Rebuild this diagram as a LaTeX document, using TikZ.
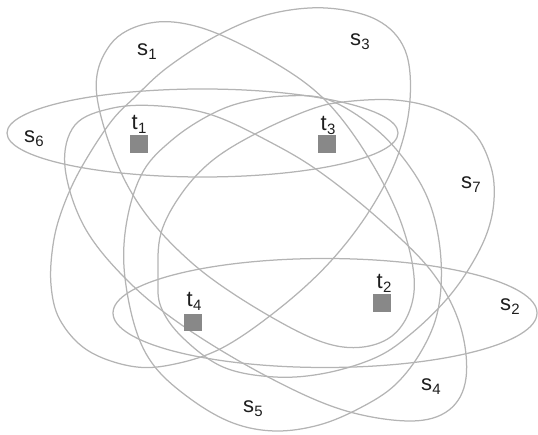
\documentclass[tikz,border=0pt]{standalone}
\usepackage{fontspec}
\setmainfont{Liberation Sans}
\definecolor{curvegray}{RGB}{180,180,180}
\definecolor{sqgray}{RGB}{136,136,136}
\definecolor{txt}{RGB}{30,30,30}
\newcommand{\lbl}[2]{#1\kern0.3pt\raisebox{-4pt}{\fontsize{15}{15}\selectfont #2}}
\tikzset{
  setline/.style={draw=curvegray, line width=1.25pt},
  sqbox/.style={fill=sqgray, draw=none, minimum size=17.5pt, inner sep=0pt},
  lab/.style={text=txt, inner sep=0pt, font=\fontsize{22}{24}\selectfont}
}
\begin{document}
\begin{tikzpicture}[x=1pt,y=-1pt]
\useasboundingbox (0,0) rectangle (538,435);
% s6
\draw[setline] (202.5,133) ellipse (195.5 and 44);
% s2
\draw[setline] (325,313) ellipse (212 and 54.5);
% s1
\draw[setline] plot[smooth cycle, tension=0.6] coordinates {(97,97) (110,45) (150,23) (202,28) (270,60) (325,100) (370,160) (403,228) (414,292) (392,336) (343,347) (280,322) (192,263) (130,190)};
% s3
\draw[setline] plot[smooth cycle, tension=0.6] coordinates {(326,8) (377,20) (405,50) (410,100) (398,155) (370,210) (330,262) (280,308) (222,348) (170,365) (130,366) (87,350) (60,320) (51,285) (53,245) (62,210) (80,170) (110,123) (135,97) (168,67) (218,35) (270,14)};
% s4
\draw[setline] plot[smooth cycle, tension=0.6] coordinates {(65,167) (75,125) (113,108) (160,106) (212,115) (270,142) (320,172) (380,220) (432,272) (460,325) (466,378) (449,410) (410,421) (343,410) (270,378) (189,330) (130,283) (85,228)};
% s5
\draw[setline] plot[smooth cycle, tension=0.6] coordinates {(124,267) (128,215) (144,170) (172,140) (206,117) (240,103) (285,96) (329,100) (377,130) (412,170) (432,210) (441,260) (438,310) (422,350) (395,385) (360,408) (319,425) (275,431) (233,423) (192,400) (155,367) (135,327)};
% s7
\draw[setline] plot[smooth cycle, tension=0.6] coordinates {(158,277) (161,233) (182,193) (213,160) (257,133) (309,110) (343,102) (395,100) (439,110) (474,133) (491,167) (494,200) (487,233) (470,267) (446,300) (412,333) (377,357) (326,373) (275,377) (223,367) (182,337) (161,307)};
% elements
\node[sqbox] (t1) at (139,144) {};
\node[sqbox] (t3) at (327,144) {};
\node[sqbox] (t2) at (382,303) {};
\node[sqbox] (t4) at (193,322.5) {};
\node[lab] (lt1) at (139,124) {\lbl{t}{1}};
\node[lab] (lt3) at (328,125) {\lbl{t}{3}};
\node[lab] (lt2) at (384,283) {\lbl{t}{2}};
\node[lab] (lt4) at (194,301) {\lbl{t}{4}};
% set labels
\node[lab] (ls1) at (147,52) {\lbl{s}{1}};
\node[lab] (ls3) at (360,42) {\lbl{s}{3}};
\node[lab] (ls6) at (34,139) {\lbl{s}{6}};
\node[lab] (ls7) at (471,185) {\lbl{s}{7}};
\node[lab] (ls2) at (510,307) {\lbl{s}{2}};
\node[lab] (ls4) at (431,387) {\lbl{s}{4}};
\node[lab] (ls5) at (253,409) {\lbl{s}{5}};
\end{tikzpicture}
\end{document}
